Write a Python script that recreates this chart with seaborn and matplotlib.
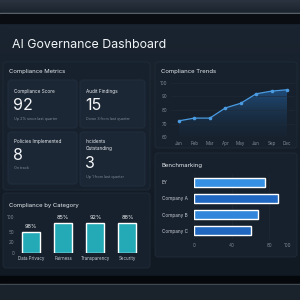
import numpy as np
import matplotlib
matplotlib.use("Agg")
import matplotlib.pyplot as plt
from matplotlib.colors import LinearSegmentedColormap
from matplotlib.patches import FancyBboxPatch, Rectangle
import seaborn as sns

# data
months = ["Jan", "Feb", "Mar", "Apr", "May", "Jun", "Sep", "Dec"]
trend = [72, 74, 74, 81.5, 85, 92, 94, 95]
trend_ticks = [60, 70, 80, 90, 100]

categories = ["Data Privacy", "Fairness", "Transparency", "Security"]
category_heights = [58, 83, 83, 83]
category_labels = ["98%", "85%", "92%", "88%"]
category_tick_pos = [0, 30, 58, 100]
category_tick_labels = ["0", "20", "50", "100"]

companies = ["EY", "Company A", "Company B", "Company C"]
bench = [75.5, 89, 68, 60.5]
bench_ticks = [0, 40, 80, 100]
bench_colors = ["#3590e4", "#2168c2", "#2f86da", "#2167bf"]

metric_titles = ["Compliance Score", "Audit Findings", "Policies Implemented", "Incidents\nOutstanding"]
metric_values = ["92", "15", "8", "3"]
metric_notes = ["Up 2% since last quarter", "Down 3 from last quarter", "On track", "Up 1 from last quarter"]

sns.set_theme(style="dark")
plt.rcParams["font.family"] = ["Inter", "DejaVu Sans"]

W = H = 300
fig = plt.figure(figsize=(3, 3), dpi=100)
bg = fig.add_axes([0, 0, 1, 1])
bg.axis("off")

# background bands
grad = np.linspace(0, 1, 50).reshape(-1, 1)
bg.imshow(grad, extent=(0, W, 13, 0), cmap=LinearSegmentedColormap.from_list("t", ["#2a333f", "#1b232d"]), aspect="auto")
bg.add_patch(Rectangle((0, 13), W, 1.2, color="#6b747e"))
bg.add_patch(Rectangle((0, 14.2), W, 9, color="#0a0e12"))
bg.imshow(grad, extent=(0, W, 276, 23), cmap=LinearSegmentedColormap.from_list("d", ["#1a2430", "#111922"]), aspect="auto")
bg.add_patch(Rectangle((0, 276), W, 8, color="#05080b"))
bg.add_patch(Rectangle((0, 284), W, 1, color="#4a525c"))
bg.add_patch(Rectangle((0, 285), W, 15, color="#1a222c"))
bg.set_xlim(0, W)
bg.set_ylim(H, 0)

def panel(x0, y0, x1, y1, fc="#17212d", ec="#202c3a"):
    bg.add_patch(FancyBboxPatch((x0, y0), x1 - x0, y1 - y0, boxstyle="round,pad=0,rounding_size=3",
                                fc=fc, ec=ec, lw=0.6))

txt = "#e6ebf0"
sub = "#7f8a97"

bg.text(12, 45, "AI Governance Dashboard", color="#f2f5f8", fontsize=8.9, va="center", ha="left")

# panels
panel(3, 62, 150, 190)
panel(155, 62, 297, 148)
panel(3, 193, 150, 268)
panel(155, 153, 297, 257)

bg.text(9, 72, "Compliance Metrics", color=txt, fontsize=4.3, va="center")
bg.text(161, 72, "Compliance Trends", color=txt, fontsize=4.3, va="center")
bg.text(9, 205, "Compliance by Category", color=txt, fontsize=4.3, va="center")
bg.text(161, 165, "Benchmarking", color=txt, fontsize=4.3, va="center")

# metric cards
cards = [(8, 80, 77, 128), (80, 80, 145, 128), (8, 132, 77, 184), (80, 132, 145, 186)]
title_y = [91, 91, 141, 145]
value_y = [106, 106, 156, 164]
note_y = [119, 119, 168, 177]
for i, (x0, y0, x1, y1) in enumerate(cards):
    panel(x0, y0, x1, y1, fc="#1c2735", ec="#223040")
    bg.text(x0 + 6, title_y[i], metric_titles[i], color=txt, fontsize=3.4, va="center", linespacing=1.6)
    bg.text(x0 + 5, value_y[i], metric_values[i], color="#f4f6f8", fontsize=11.5, va="center")
    bg.text(x0 + 6, note_y[i], metric_notes[i], color=sub, fontsize=2.7, va="center")

def px_axes(x0, y0, x1, y1):
    ax = fig.add_axes([x0 / W, 1 - y1 / H, (x1 - x0) / W, (y1 - y0) / H])
    ax.set_facecolor("none")
    for s in ax.spines.values():
        s.set_visible(False)
    ax.tick_params(colors=sub, labelsize=3.3, length=0, pad=1.5)
    return ax

# compliance trends
ax1 = px_axes(171.3, 83, 294.7, 137)
xs = np.arange(len(months))
area = ax1.fill_between(xs, trend, 60, color="none", lw=0)
shade = ax1.imshow(np.linspace(1, 0, 100).reshape(-1, 1), extent=(-0.5, len(months) - 0.5, 60, 100),
                   cmap=LinearSegmentedColormap.from_list("f", [(0.1, 0.2, 0.3, 0.1), (0.15, 0.4, 0.66, 0.8)]),
                   aspect="auto", origin="upper")
shade.set_clip_path(area.get_paths()[0], transform=ax1.transData)
sns.lineplot(x=xs, y=trend, ax=ax1, color="#4a9be2", lw=0.9, marker="o", markersize=2.6,
             markeredgewidth=0, clip_on=False)
ax1.set_xlim(-0.5, len(months) - 0.5)
ax1.set_ylim(60, 100)
ax1.set_yticks(trend_ticks)
ax1.set_xticks(xs)
ax1.set_xticklabels(months)
ax1.tick_params(axis="y", pad=3)
ax1.tick_params(axis="x", pad=3)
ax1.grid(axis="y", color="#202b38", lw=0.4)
ax1.grid(axis="x", visible=False)

# compliance by category
ax2 = px_axes(15, 217, 143.5, 253)
sns.barplot(x=categories, y=category_heights, ax=ax2, color="#23aab6", width=0.56, saturation=1)
for i, lab in enumerate(category_labels):
    ax2.text(i, category_heights[i] + 8, lab, color="#f0f4f7", fontsize=4, ha="center", va="bottom")
ax2.set_ylim(0, 100)
ax2.set_yticks(category_tick_pos)
ax2.set_yticklabels(category_tick_labels)
ax2.tick_params(axis="x", colors="#c3cbd3", labelsize=3.2, pad=2.5)
ax2.tick_params(axis="y", pad=0.5)
ax2.grid(False)
ax2.set_xlabel("")
ax2.set_ylabel("")

# benchmarking
ax3 = px_axes(194, 174, 288, 239)
sns.barplot(x=bench, y=companies, orient="h", hue=companies, palette=bench_colors, legend=False,
            ax=ax3, width=0.55, saturation=1)
ax3.set_xlim(0, 100)
ax3.set_xticks(bench_ticks)
ax3.grid(axis="x", color="#1f2a37", lw=0.4)
ax3.grid(axis="y", visible=False)
ax3.tick_params(axis="y", colors="#c3cbd3", labelsize=3.4, pad=23)
ax3.tick_params(axis="x", pad=3)
for lbl in ax3.get_yticklabels():
    lbl.set_horizontalalignment("left")
ax3.set_xlabel("")
ax3.set_ylabel("")

fig.savefig("out.png", dpi=100, facecolor="#131c27")
